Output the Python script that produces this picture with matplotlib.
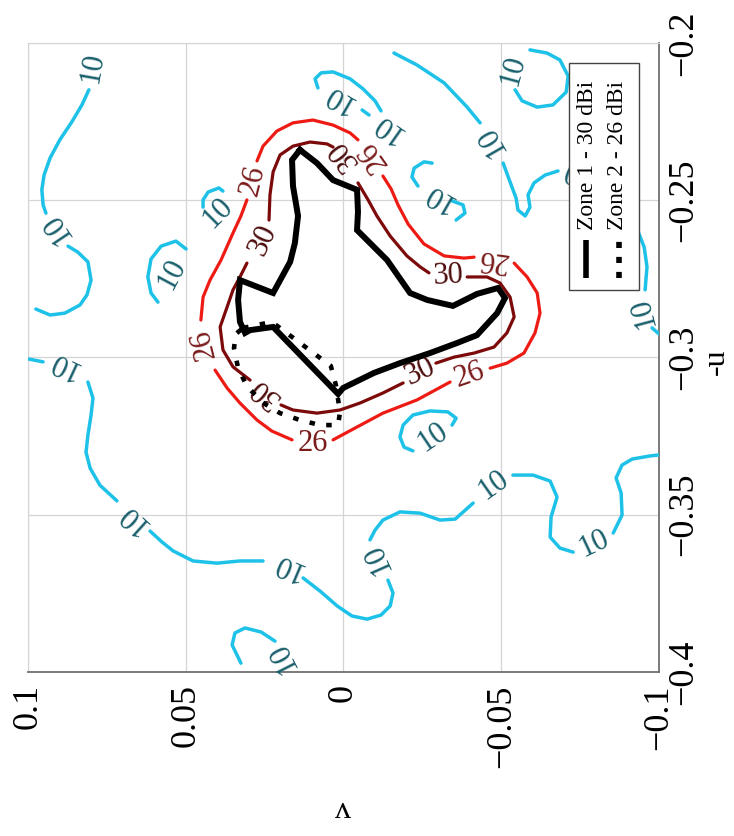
import numpy as np
import matplotlib
matplotlib.use('Agg')
from matplotlib import pyplot as plt
from matplotlib.patches import Rectangle

plt.rcParams['font.family'] = ['Liberation Serif', 'DejaVu Serif']

V_TICKS = [0.1, 0.05, 0, -0.05, -0.1]
U_TICKS = [-0.2, -0.25, -0.3, -0.35, -0.4]

# 10 dBi contour pieces, (v, u)
C10_LINES = [
    [(0.0807, -0.2149), (0.0829, -0.2197), (0.0861, -0.2251), (0.0899, -0.2308), (0.0930, -0.2366),
     (0.0949, -0.2420), (0.0956, -0.2467), (0.0952, -0.2515), (0.0943, -0.2541)],
    [(0.0873, -0.2646), (0.0842, -0.2665), (0.0810, -0.2696), (0.0800, -0.2754), (0.0813, -0.2801),
     (0.0835, -0.2833), (0.0883, -0.2859), (0.0930, -0.2865), (0.0975, -0.2846)],
    [(0.0997, -0.3005), (0.0952, -0.3014)],
    [(0.0810, -0.3078), (0.0794, -0.3129), (0.0800, -0.3183), (0.0810, -0.3247), (0.0816, -0.3301),
     (0.0803, -0.3352), (0.0772, -0.3406), (0.0718, -0.3456)],
    [(0.0613, -0.3552), (0.0575, -0.3587), (0.0540, -0.3615), (0.0477, -0.3647), (0.0401, -0.3654),
     (0.0328, -0.3647), (0.0255, -0.3647)],
    [(0.0128, -0.3701), (0.0074, -0.3743), (0.0020, -0.3790), (-0.0027, -0.3822), (-0.0075, -0.3832),
     (-0.0119, -0.3819), (-0.0148, -0.3790), (-0.0157, -0.3749), (-0.0141, -0.3708)],
    [(-0.0084, -0.3580), (-0.0100, -0.3549), (-0.0125, -0.3517), (-0.0179, -0.3491), (-0.0243, -0.3495),
     (-0.0306, -0.3517), (-0.0354, -0.3514), (-0.0411, -0.3463)],
    [(-0.0537, -0.3374), (-0.0601, -0.3374), (-0.0655, -0.3393), (-0.0677, -0.3444), (-0.0658, -0.3507),
     (-0.0655, -0.3571), (-0.0686, -0.3606), (-0.0728, -0.3619)],
    [(-0.0855, -0.3558), (-0.0883, -0.3501), (-0.0880, -0.3431), (-0.0864, -0.3383), (-0.0883, -0.3342),
     (-0.0915, -0.3323), (-0.0972, -0.3313), (-0.1000, -0.3310)],
    [(0.0325, -0.3972), (0.0353, -0.3914), (0.0344, -0.3876), (0.0312, -0.3860), (0.0261, -0.3873),
     (0.0217, -0.3902)],
    [(0.0499, -0.2655), (0.0531, -0.2630), (0.0578, -0.2646), (0.0610, -0.2687), (0.0620, -0.2744),
     (0.0610, -0.2795), (0.0588, -0.2824)],
    [(0.0382, -0.2471), (0.0395, -0.2461), (0.0429, -0.2474), (0.0445, -0.2499), (0.0445, -0.2522)],
    [(0.0081, -0.2143), (0.0090, -0.2114), (0.0071, -0.2095), (0.0033, -0.2092), (-0.0021, -0.2114),
     (-0.0062, -0.2146), (-0.0100, -0.2184), (-0.0119, -0.2216)],
    [(-0.0059, -0.2213), (-0.0081, -0.2229)],
    [(-0.0160, -0.2032), (-0.0233, -0.2070), (-0.0319, -0.2127), (-0.0392, -0.2204), (-0.0433, -0.2254)],
    [(-0.0506, -0.2382), (-0.0528, -0.2442), (-0.0547, -0.2493), (-0.0553, -0.2531), (-0.0576, -0.2550),
     (-0.0591, -0.2522), (-0.0585, -0.2483), (-0.0604, -0.2445), (-0.0639, -0.2420), (-0.0680, -0.2407)],
    [(-0.0591, -0.2022), (-0.0645, -0.2032), (-0.0686, -0.2054), (-0.0712, -0.2105), (-0.0706, -0.2156),
     (-0.0664, -0.2197), (-0.0614, -0.2204), (-0.0566, -0.2184), (-0.0544, -0.2149)],
    [(-0.0934, -0.2600), (-0.0953, -0.2649), (-0.0962, -0.2712), (-0.0956, -0.2785)],
    [(-0.0978, -0.2906), (-0.1000, -0.2925)],
    [(-0.0344, -0.3215), (-0.0357, -0.3193), (-0.0331, -0.3173), (-0.0274, -0.3170), (-0.0220, -0.3183),
     (-0.0189, -0.3215), (-0.0179, -0.3253), (-0.0192, -0.3285), (-0.0220, -0.3297)],
    [(-0.0281, -0.2382), (-0.0255, -0.2378), (-0.0224, -0.2398), (-0.0217, -0.2426), (-0.0236, -0.2455)],
    [(-0.0344, -0.2502), (-0.0379, -0.2515), (-0.0385, -0.2541), (-0.0357, -0.2563)],
]
# (v, u, angle)
C10_LABELS = [
    (0.0794, -0.2080, 80), (0.0908, -0.2588, 124), (0.0886, -0.3021, 155), (0.0667, -0.3511, 138),
    (0.0179, -0.3663, 157), (-0.0106, -0.3638, 114), (-0.0477, -0.3406, 35), (-0.0794, -0.3593, 25),
    (0.0192, -0.3953, 117), (0.0544, -0.2735, 62), (0.0398, -0.2541, 45), (0.0017, -0.2175, 150),
    (-0.0141, -0.2267, 145), (-0.0468, -0.2312, 120), (-0.0734, -0.2410, 160), (-0.0537, -0.2086, 75),
    (-0.0950, -0.2855, 105), (-0.0284, -0.3253, 34), (-0.0300, -0.2490, 150),
]

# 26 dBi contour pieces
C26_LINES = [
    [(0.0274, -0.2375), (0.0255, -0.2328), (0.0211, -0.2280), (0.0160, -0.2254), (0.0097, -0.2245),
     (0.0033, -0.2261), (-0.0021, -0.2286), (-0.0046, -0.2308)],
    [(-0.0125, -0.2423), (-0.0151, -0.2464), (-0.0173, -0.2515), (-0.0205, -0.2576), (-0.0255, -0.2639),
     (-0.0319, -0.2677), (-0.0382, -0.2684), (-0.0414, -0.2681)],
    [(-0.0541, -0.2700), (-0.0582, -0.2744), (-0.0614, -0.2795), (-0.0623, -0.2859), (-0.0607, -0.2922),
     (-0.0572, -0.2986), (-0.0518, -0.3018), (-0.0465, -0.3034)],
    [(-0.0338, -0.3078), (-0.0233, -0.3135), (-0.0125, -0.3177), (-0.0043, -0.3221), (0.0033, -0.3262)],
    [(0.0163, -0.3262), (0.0227, -0.3234), (0.0274, -0.3199), (0.0328, -0.3145), (0.0369, -0.3097),
     (0.0407, -0.3040)],
    [(0.0452, -0.2881), (0.0445, -0.2808), (0.0423, -0.2754), (0.0388, -0.2690), (0.0350, -0.2604),
     (0.0325, -0.2550), (0.0306, -0.2499)],
]
C26_LABELS = [
    (0.0287, -0.2436, 76), (-0.0094, -0.2359, 125), (-0.0474, -0.2687, 172),
    (-0.0401, -0.3056, 19), (0.0097, -0.3272, 0), (0.0442, -0.2957, 104),
]

# 30 dBi contour pieces
C30_LINES = [
    [(0.0236, -0.2563), (0.0233, -0.2483), (0.0223, -0.2410), (0.0201, -0.2356), (0.0160, -0.2328),
     (0.0106, -0.2315), (0.0052, -0.2321), (0.0033, -0.2331)],
    [(-0.0046, -0.2445), (-0.0078, -0.2499), (-0.0106, -0.2550), (-0.0148, -0.2614), (-0.0201, -0.2677),
     (-0.0243, -0.2712), (-0.0271, -0.2731)],
    [(-0.0392, -0.2744), (-0.0455, -0.2744), (-0.0496, -0.2763), (-0.0528, -0.2808), (-0.0541, -0.2871),
     (-0.0518, -0.2922), (-0.0477, -0.2967), (-0.0414, -0.2986), (-0.0350, -0.2999), (-0.0293, -0.3018)],
    [(-0.0189, -0.3081), (-0.0125, -0.3113), (-0.0052, -0.3145), (0.0011, -0.3167), (0.0084, -0.3177),
     (0.0160, -0.3167), (0.0198, -0.3151)],
    [(0.0296, -0.3072), (0.0350, -0.3030), (0.0382, -0.2976), (0.0391, -0.2903), (0.0369, -0.2840),
     (0.0350, -0.2785), (0.0328, -0.2744), (0.0306, -0.2700)],
]
C30_LABELS = [
    (0.0001, -0.2356, 128), (-0.0331, -0.2740, 3), (-0.0243, -0.3046, 25),
    (0.0249, -0.3110, 141), (0.0255, -0.2626, 65),
]

# coverage zones
ZONE1_V = [0.0138, 0.0084, 0.0033, -0.0043, -0.0046, -0.0043, -0.0084, -0.0138, -0.0211, -0.0265,
           -0.0347, -0.0423, -0.0490, -0.0512, -0.0487, -0.0423, -0.0360, -0.0274, -0.0179, -0.0097,
           0.0001, 0.0017, 0.0223, 0.0296, 0.0312, 0.0328, 0.0334, 0.0328, 0.0223, 0.0169,
           0.0154, 0.0144, 0.0160, 0.0163, 0.0138]
ZONE1_U = [-0.2340, -0.2382, -0.2436, -0.2467, -0.2537, -0.2595, -0.2636, -0.2690, -0.2795, -0.2817,
           -0.2836, -0.2798, -0.2779, -0.2811, -0.2859, -0.2929, -0.2954, -0.2986, -0.3018, -0.3049,
           -0.3097, -0.3116, -0.2903, -0.2913, -0.2922, -0.2887, -0.2817, -0.2754, -0.2795, -0.2696,
           -0.2636, -0.2550, -0.2455, -0.2372, -0.2340]
ZONE2_V = [0.0318, 0.0227, 0.0040, 0.0024, 0.0011, 0.0017, 0.0074, 0.0138, 0.0201, 0.0258,
           0.0306, 0.0334, 0.0347, 0.0341, 0.0318]
ZONE2_U = [-0.2906, -0.2887, -0.3027, -0.3088, -0.3173, -0.3215, -0.3215, -0.3199, -0.3177, -0.3142,
           -0.3091, -0.3034, -0.2970, -0.2925, -0.2906]

LEVELS = [
    (C10_LINES, C10_LABELS, '10', '#1ec2e8', '#1a5f6c', 2.5),
    (C26_LINES, C26_LABELS, '26', '#ee1b14', '#7a1c1c', 2.3),
    (C30_LINES, C30_LABELS, '30', '#7c0a0a', '#4e0d0d', 2.3),
]


def fmt(x):
    return ('%g' % x).replace('-', '\u2212')


fig = plt.figure(figsize=(7.34, 8.36), dpi=100)
ax = fig.add_axes([0.0381, 0.1962, 0.8597, 0.7524])
ax.set_xlim(0.1, -0.1)
ax.set_ylim(-0.4, -0.2)

for lines, labels, txt, lc, tc, lw in LEVELS:
    for seg in lines:
        seg = np.array(seg)
        ax.plot(seg[:, 0], seg[:, 1], color=lc, lw=lw, solid_capstyle='round',
                solid_joinstyle='round', zorder=3)
    for v, u, ang in labels:
        ax.text(v, u, txt, color=tc, fontsize=22, rotation=ang, rotation_mode='anchor',
                ha='center', va='center', zorder=4)

ax.plot(ZONE1_V, ZONE1_U, color='black', lw=4.3, solid_joinstyle='miter', zorder=4)
ax.plot(ZONE2_V, ZONE2_U, color='black', lw=3.3, linestyle=(0, (1.2, 2.5)),
        dash_capstyle='butt', zorder=4)

ax.set_xticks(V_TICKS)
ax.set_xticklabels([fmt(t) for t in V_TICKS], rotation=90, ha='center', va='top')
ax.yaxis.tick_right()
ax.set_yticks(U_TICKS)
ax.set_yticklabels([fmt(t) for t in U_TICKS], rotation=90, ha='left', va='center')
ax.tick_params(axis='x', length=0, labelsize=26, pad=9)
ax.tick_params(axis='y', length=0, labelsize=26, pad=6)
ax.grid(True, color='#d4d4d4', lw=0.9)
ax.set_axisbelow(True)

for side in ['top', 'left']:
    ax.spines[side].set_color('#d4d4d4')
for side in ['right', 'bottom']:
    ax.spines[side].set_color('#707070')
    ax.spines[side].set_linewidth(1.3)

# axis names, turned like the rest of the page
ax.text(0.5, -0.2175, 'v', transform=ax.transAxes, fontsize=23, rotation=180,
        ha='center', va='center')
ax.text(1.0903, 0.493, '-u', transform=ax.transAxes, fontsize=23, rotation=90,
        ha='center', va='center')

# legend drawn by hand, rotated like the rest of the figure
ax.add_patch(Rectangle((0.857, 0.607), 0.111, 0.361, transform=ax.transAxes,
                       facecolor='white', edgecolor='#444444', lw=1.0, zorder=6))
ax.plot([0.885, 0.885], [0.626, 0.687], transform=ax.transAxes, color='black', lw=4,
        solid_capstyle='butt', zorder=7)
ax.plot([0.936, 0.936], [0.626, 0.687], transform=ax.transAxes, color='black', lw=4,
        linestyle=(0, (1.1, 1.6)), dash_capstyle='butt', zorder=7)
ax.text(0.887, 0.703, 'Zone 1 - 30 dBi', transform=ax.transAxes, rotation=90, fontsize=17,
        ha='center', va='bottom', zorder=7)
ax.text(0.935, 0.703, 'Zone 2 - 26 dBi', transform=ax.transAxes, rotation=90, fontsize=17,
        ha='center', va='bottom', zorder=7)

plt.savefig('out.png', dpi=100)
